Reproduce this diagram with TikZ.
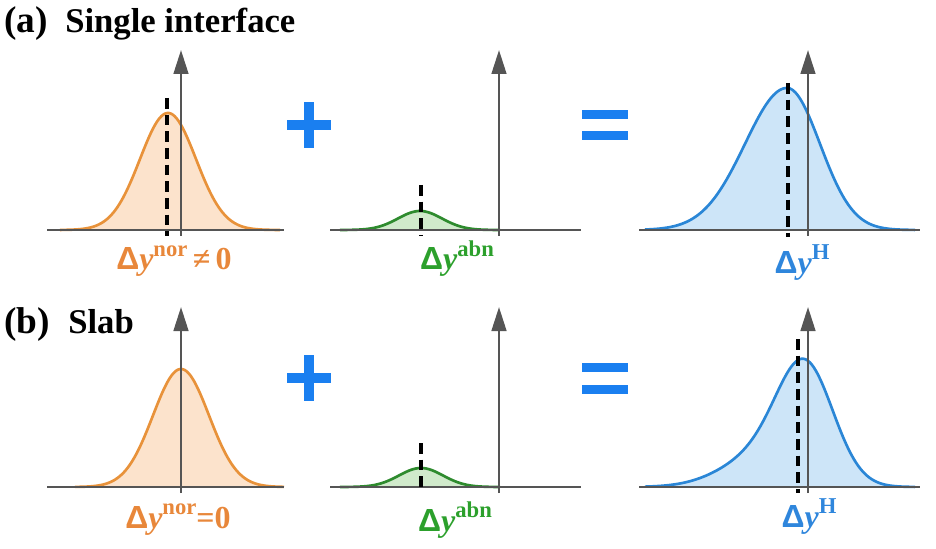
\documentclass[tikz,border=0pt]{standalone}
\usepackage{fontspec}
\setmainfont{Liberation Serif}
\setsansfont{Liberation Sans}
\usetikzlibrary{arrows.meta}
\definecolor{axisgray}{HTML}{555555}
\definecolor{orline}{HTML}{E8923A}
\definecolor{orfill}{HTML}{FCE3CC}
\definecolor{grline}{HTML}{2E8B2E}
\definecolor{grfill}{HTML}{D0EACB}
\definecolor{blline}{HTML}{2A86D6}
\definecolor{blfill}{HTML}{CDE5F8}
\definecolor{opblue}{HTML}{1A7FF0}
\definecolor{ortext}{HTML}{E8873A}
\definecolor{grtext}{HTML}{2CA02C}
\definecolor{bltext}{HTML}{2F86DC}
\newcommand{\dlab}[2]{{\bfseries{\sffamily Δ}{\itshape y}\raisebox{0.42em}{\fontsize{17}{17}\selectfont #1}#2}}
\begin{document}
\begin{tikzpicture}[x=0.75pt,y=-0.75pt,
  axisline/.style={draw=axisgray, line width=1.9pt},
  vaxis/.style={axisline, -{Triangle[length=18pt,width=11pt]}},
  curveline/.style={line width=2pt},
  meanline/.style={draw=black, line width=2.6pt, dash pattern=on 8pt off 4.5pt},
  lbl/.style={anchor=base, font=\fontsize{24}{26}\selectfont, inner sep=0pt},
  ttl/.style={anchor=base west, font=\fontsize{26}{28}\selectfont\bfseries, inner sep=0pt},
  opbar/.style={fill=opblue}]
\useasboundingbox (0,0) rectangle (936,549);

% ---------- titles ----------
\node[ttl, font=\fontsize{28}{30}\selectfont\bfseries] (ta) at (4,33) {(a)};
\node[ttl] (tas) at (65,33) {Single interface};
\node[ttl, font=\fontsize{28}{30}\selectfont\bfseries] (tb) at (4,333) {(b)};
\node[ttl] (tbs) at (68,333) {Slab};

% ---------- (a) orange ----------
\fill[orfill] plot[domain=60:280, samples=120, smooth] (\x,{230-117*exp(-0.5*((\x-168)/28)^2)}) -- cycle;
\draw[orline, curveline] plot[domain=60:280, samples=120, smooth] (\x,{230-117*exp(-0.5*((\x-168)/28)^2)});
\draw[axisline] (47,230) -- (284,230);
\draw[vaxis] (181,236) -- (181,50);
\draw[meanline] (167,98) -- (167,236);
\node[lbl, text=ortext] (la1) at (174,270) {\dlab{nor}{\,≠\,0}};

% ---------- (a) green ----------
\fill[grfill] plot[domain=340:500, samples=100, smooth] (\x,{230-19*exp(-0.5*((\x-420)/22)^2)}) -- cycle;
\draw[grline, curveline] plot[domain=340:500, samples=100, smooth] (\x,{230-19*exp(-0.5*((\x-420)/22)^2)});
\draw[axisline] (330,230) -- (581,230);
\draw[vaxis] (499,236) -- (499,50);
\draw[meanline] (421,185) -- (421,236);
\node[lbl, text=grtext] (la2) at (457,270) {\dlab{abn}{}};

% ---------- (a) blue ----------
\fill[blfill] plot[domain=645:915, samples=150, smooth] (\x,{230-142*exp(-0.5*((\x-787)/ifthenelse(\x<787,42,33))^2)}) -- cycle;
\draw[blline, curveline] plot[domain=645:915, samples=150, smooth] (\x,{230-142*exp(-0.5*((\x-787)/ifthenelse(\x<787,42,33))^2)});
\draw[axisline] (639,230) -- (920,230);
\draw[vaxis] (808,236) -- (808,50);
\draw[meanline] (788,83) -- (788,237);
\node[lbl, text=bltext] (la3) at (802,273) {\dlab{H}{}};

% ---------- (a) operators ----------
\fill[opbar] (287,120) rectangle (331,130);
\fill[opbar] (304,102) rectangle (314,148);
\fill[opbar] (582,110) rectangle (628,119);
\fill[opbar] (582,131) rectangle (628,140);

% ---------- (b) orange ----------
\fill[orfill] plot[domain=75:284, samples=120, smooth] (\x,{487-118*exp(-0.5*((\x-181)/28)^2)}) -- cycle;
\draw[orline, curveline] plot[domain=75:284, samples=120, smooth] (\x,{487-118*exp(-0.5*((\x-181)/28)^2)});
\draw[axisline] (47,487) -- (284,487);
\draw[vaxis] (181,493) -- (181,307);
\node[lbl, text=ortext] (lb1) at (178,528) {\dlab{nor}{=0}};

% ---------- (b) green ----------
\fill[grfill] plot[domain=340:500, samples=100, smooth] (\x,{487-19*exp(-0.5*((\x-421)/22)^2)}) -- cycle;
\draw[grline, curveline] plot[domain=340:500, samples=100, smooth] (\x,{487-19*exp(-0.5*((\x-421)/22)^2)});
\draw[axisline] (330,487) -- (581,487);
\draw[vaxis] (499,493) -- (499,307);
\draw[meanline] (421,443) -- (421,493);
\node[lbl, text=grtext] (lb2) at (455,531) {\dlab{abn}{}};

% ---------- (b) blue ----------
\fill[blfill] plot[domain=645:915, samples=150, smooth] (\x,{487-109*exp(-0.5*((\x-806)/28)^2)-32*exp(-0.5*((\x-764)/40)^2)}) -- cycle;
\draw[blline, curveline] plot[domain=645:915, samples=150, smooth] (\x,{487-109*exp(-0.5*((\x-806)/28)^2)-32*exp(-0.5*((\x-764)/40)^2)});
\draw[axisline] (639,487) -- (920,487);
\draw[vaxis] (808,493) -- (808,307);
\draw[meanline] (798,339) -- (798,493);
\node[lbl, text=bltext] (lb3) at (809,527) {\dlab{H}{}};

% ---------- (b) operators ----------
\fill[opbar] (287,373) rectangle (331,383);
\fill[opbar] (304,355) rectangle (314,401);
\fill[opbar] (582,363) rectangle (628,372);
\fill[opbar] (582,385) rectangle (628,394);
\end{tikzpicture}
\end{document}
